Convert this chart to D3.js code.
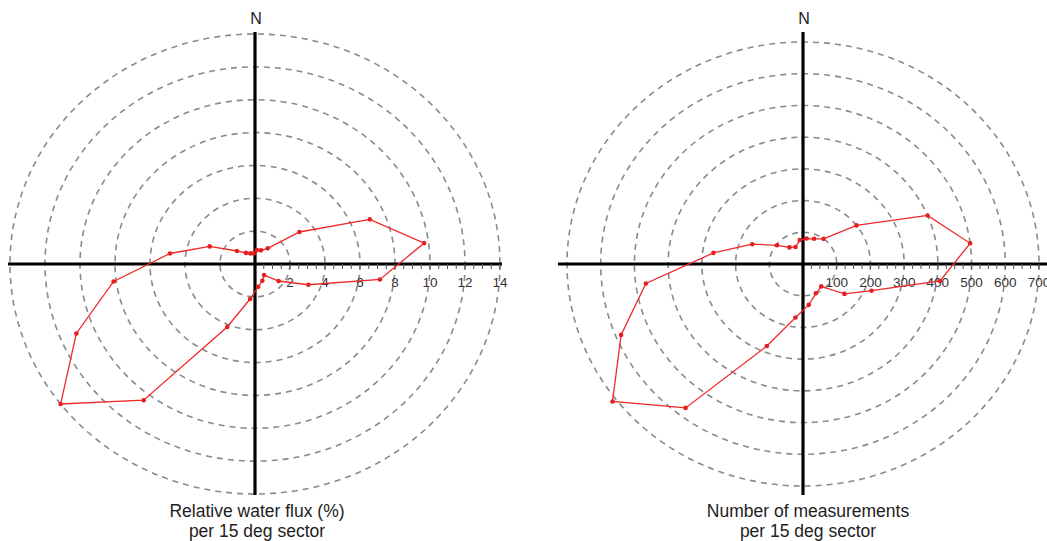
<!DOCTYPE html>
<html>
<head>
<meta charset="utf-8">
<script src="https://cdn.jsdelivr.net/npm/d3@7"></script>
<style>
  html, body { margin: 0; padding: 0; background: #fff; }
  svg { display: block; }
  text { font-family: "Liberation Sans", Arial, sans-serif; fill: #2a2a2a; }
</style>
</head>
<body>
<svg id="chart" width="1047" height="541"></svg>
<script>
// Sector centre directions (degrees clockwise from North), 15 deg sectors
const sectors = [7.5, 22.5, 37.5, 52.5, 67.5, 82.5, 97.5, 112.5, 127.5, 142.5, 157.5, 172.5,
                 187.5, 202.5, 217.5, 232.5, 247.5, 262.5, 277.5, 292.5, 307.5, 322.5, 337.5, 352.5];

// Relative water flux (%) per sector
const fluxValues = [0.85, 0.9, 1.2, 3.2, 7.1, 9.75, 7.2, 3.3, 1.7, 0.85, 1.1, 1.4,
                    2.15, 4.15, 10.45, 14.0, 11.05, 8.15, 4.9, 2.8, 1.3, 0.85, 0.7, 0.65];

// Number of measurements per sector
const countValues = [81, 86, 100, 200, 400, 500, 410, 220, 155, 89, 100, 130,
                     170, 280, 572, 712, 584, 470, 268, 163, 97, 66, 58, 76];

const fluxTicks = [2, 4, 6, 8, 10, 12, 14];
const countTicks = [100, 200, 300, 400, 500, 600, 700];

const fluxTitle = ["Relative water flux (%)", "per 15 deg sector"];
const countTitle = ["Number of measurements", "per 15 deg sector"];

const svg = d3.select("#chart");

function drawPolar(cfg) {
  const g = svg.append("g");
  const rx = d3.scaleLinear().domain([0, cfg.max]).range([0, cfg.rxMax]);
  const ry = d3.scaleLinear().domain([0, cfg.max]).range([0, cfg.ryMax]);
  const px = (a, v) => cfg.cx + rx(v) * Math.sin(a * Math.PI / 180);
  const py = (a, v) => cfg.cy - ry(v) * Math.cos(a * Math.PI / 180);

  // dashed rings
  g.selectAll("ellipse.ring").data(cfg.ticks).join("ellipse")
    .attr("class", "ring")
    .attr("cx", cfg.cx).attr("cy", cfg.cy)
    .attr("rx", d => rx(d)).attr("ry", d => ry(d))
    .attr("fill", "none").attr("stroke", "#8a8a8a")
    .attr("stroke-width", 1.6).attr("stroke-dasharray", "6,5");

  // axes
  g.append("line").attr("x1", cfg.cx).attr("x2", cfg.cx)
    .attr("y1", cfg.axTop).attr("y2", cfg.axBottom)
    .attr("stroke", "#000").attr("stroke-width", 3.2);
  g.append("line").attr("x1", cfg.axLeft).attr("x2", cfg.axRight)
    .attr("y1", cfg.cy).attr("y2", cfg.cy)
    .attr("stroke", "#000").attr("stroke-width", 3.2);

  // minor ticks on positive x axis
  const minor = d3.range(cfg.minorStep, cfg.max + 1e-9, cfg.minorStep);
  g.selectAll("line.minor").data(minor).join("line")
    .attr("class", "minor")
    .attr("x1", d => cfg.cx + rx(d)).attr("x2", d => cfg.cx + rx(d))
    .attr("y1", cfg.cy).attr("y2", cfg.cy + 5)
    .attr("stroke", "#555").attr("stroke-width", 1);

  // tick labels
  g.selectAll("text.tick").data(cfg.ticks).join("text")
    .attr("class", "tick")
    .attr("x", d => cfg.cx + rx(d)).attr("y", cfg.cy + 23)
    .attr("text-anchor", "middle").attr("font-size", 13.5)
    .style("fill", "#333")
    .text(d => d);

  // N label
  g.append("text").attr("x", cfg.cx + 1).attr("y", 24)
    .attr("text-anchor", "middle").attr("font-size", 16)
    .style("fill", "#222").text("N");

  // data polygon
  const pts = cfg.values.map((v, i) => [px(sectors[i], v), py(sectors[i], v)]);
  g.append("path")
    .attr("d", d3.line().curve(d3.curveLinearClosed)(pts))
    .attr("fill", "none").attr("stroke", "#f02828").attr("stroke-width", 1.3);
  g.selectAll("circle.pt").data(pts).join("circle")
    .attr("class", "pt")
    .attr("cx", d => d[0]).attr("cy", d => d[1]).attr("r", 2.3)
    .attr("fill", "#e81e1e");

  // titles
  g.selectAll("text.title").data(cfg.title).join("text")
    .attr("class", "title")
    .attr("x", cfg.titleX).attr("y", (d, i) => 517 + i * 20)
    .attr("text-anchor", "middle").attr("font-size", 17.5)
    .style("fill", "#222")
    .text(d => d);
}

drawPolar({
  cx: 255, cy: 264, max: 14, rxMax: 245, ryMax: 230,
  ticks: fluxTicks, minorStep: 0.5, values: fluxValues,
  axTop: 32, axBottom: 495, axLeft: 8, axRight: 502,
  title: fluxTitle, titleX: 257
});

drawPolar({
  cx: 803, cy: 264, max: 700, rxMax: 236, ryMax: 222,
  ticks: countTicks, minorStep: 25, values: countValues,
  axTop: 32, axBottom: 495, axLeft: 558, axRight: 1047,
  title: countTitle, titleX: 808
});
</script>
</body>
</html>
